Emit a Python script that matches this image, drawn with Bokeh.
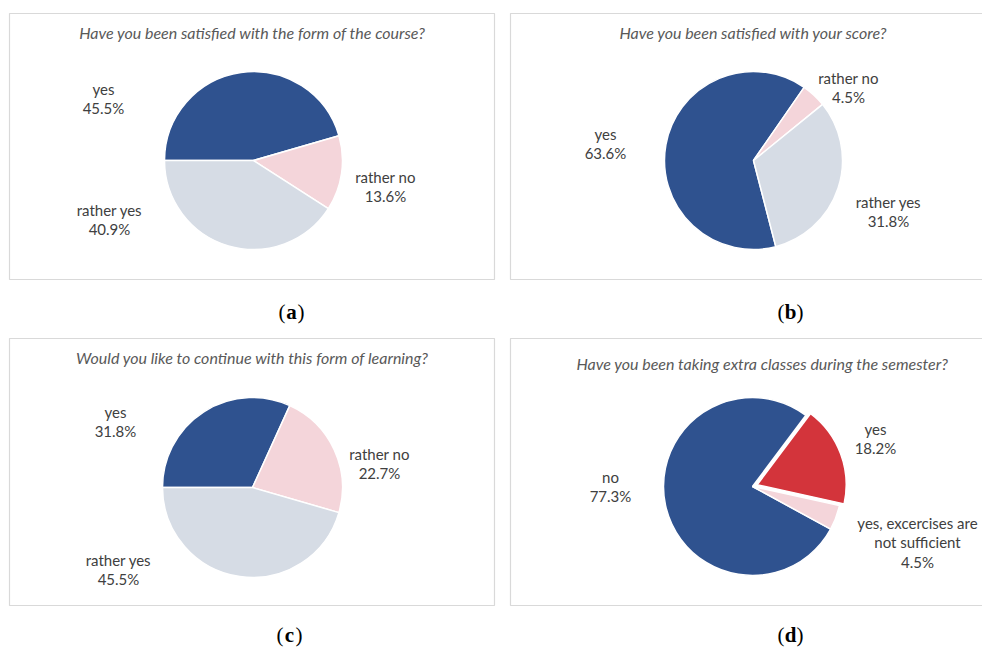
import numpy as np
from bokeh.plotting import figure
from bokeh.models import Range1d, ColumnDataSource
from bokeh.core.properties import value
from bokeh.embed import file_html
from bokeh.resources import INLINE

# ---------------- data ----------------
a_title = "Have you been satisfied with the form of the course?"
a_labels = ["yes", "rather no", "rather yes"]
a_values = [45.5, 13.6, 40.9]

b_title = "Have you been satisfied with your score?"
b_labels = ["yes", "rather no", "rather yes"]
b_values = [63.6, 4.5, 31.8]

c_title = "Would you like to continue with this form of learning?"
c_labels = ["yes", "rather no", "rather yes"]
c_values = [31.8, 22.7, 45.5]

d_title = "Have you been taking extra classes during the semester?"
d_labels = ["no", "yes", "yes, excercises are not sufficient"]
d_values = [77.3, 18.2, 4.5]

captions = ["a", "b", "c", "d"]

# ---------------- styling / layout ----------------
DARK = "#2F528F"
LIGHT = "#D6DCE5"
PINK = "#F4D5DA"
RED = "#D3343B"
TXT = "#404040"
TTL = "#595959"

W, H = 982, 648


def X(ix):
    return ix


def Y(iy):
    return H - iy


p = figure(width=W, height=H, x_range=Range1d(0, W), y_range=Range1d(0, H),
           output_backend="svg", toolbar_location=None, min_border=0,
           x_axis_location=None, y_axis_location=None)
p.grid.visible = False
p.outline_line_color = None
p.background_fill_color = "white"
p.border_fill_color = "white"

# panel boxes (image coords: left, top, right, bottom)
boxes = [(9, 13, 494, 279), (510, 13, 995, 279), (9, 338, 494, 605), (510, 338, 995, 605)]
for (l, t, r, b) in boxes:
    p.quad(left=X(l), right=X(r), top=Y(t), bottom=Y(b), fill_color=None,
           line_color="#D9D9D9", line_width=1.2)

panels = [
    dict(title=a_title, labels=a_labels, values=a_values, colors=[DARK, PINK, LIGHT],
         center=(253, 160), r=89, start=180.0, title_pos=(252, 32),
         label_pos=[(103, 98), (385, 186), (109, 219)], explode=[0, 0, 0]),
    dict(title=b_title, labels=b_labels, values=b_values, colors=[DARK, PINK, LIGHT],
         center=(753, 160), r=89, start=-75.5, title_pos=(753, 32),
         label_pos=[(605, 143), (848, 87), (888, 211)], explode=[0, 0, 0]),
    dict(title=c_title, labels=c_labels, values=c_values, colors=[DARK, PINK, LIGHT],
         center=(252, 487), r=90, start=180.0, title_pos=(252, 357),
         label_pos=[(115, 421), (379, 463), (118, 569)], explode=[0, 0, 0]),
    dict(title=d_title, labels=d_labels, values=d_values, colors=[DARK, RED, PINK],
         center=(752, 486), r=89, start=-28.6, title_pos=(762, 363),
         label_pos=[(610, 486), (875, 438), (917, 542)], explode=[0, 5, 0]),
]


def wrap(s):
    return s.replace(" not ", "\nnot ")


for pn in panels:
    vals = np.array(pn["values"], dtype=float)
    frac = vals / vals.sum()
    cum = np.concatenate([[0.0], np.cumsum(frac)[:-1]])
    starts = np.deg2rad(pn["start"] - cum * 360.0)
    ends = np.deg2rad(pn["start"] - (cum + frac) * 360.0)
    mids = (starts + ends) / 2
    ex = np.array(pn["explode"], dtype=float)
    cx = X(pn["center"][0]) + ex * np.cos(mids)
    cy = Y(pn["center"][1]) + ex * np.sin(mids)
    src = ColumnDataSource(dict(x=cx, y=cy, s=starts, e=ends, c=pn["colors"]))
    p.wedge(x="x", y="y", radius=pn["r"], start_angle="s", end_angle="e",
            direction="clock", fill_color="c", line_color="white", line_width=1.5,
            source=src)

    txt = [f"{wrap(lab)}\n{v:.1f}%" for lab, v in zip(pn["labels"], pn["values"])]
    lx = [X(q[0]) for q in pn["label_pos"]]
    ly = [Y(q[1]) for q in pn["label_pos"]]
    p.text(x=lx, y=ly, text=txt, text_align="center", text_baseline="middle",
           text_font=value("Lato"), text_font_size="15px", text_color=TXT,
           text_line_height=1.1)

    p.text(x=[X(pn["title_pos"][0])], y=[Y(pn["title_pos"][1])], text=[pn["title"]],
           text_align="center", text_baseline="middle", text_font=value("Lato"),
           text_font_style="italic", text_font_size="16px", text_color=TTL)

# captions (a) (b) (c) (d)
cap_pos = [(291, 311), (790, 311), (289, 634), (790, 634)]
for letter, (ix, iy) in zip(captions, cap_pos):
    x0, y0 = X(ix), Y(iy)
    p.text(x=[x0], y=[y0], text=[letter], text_align="center", text_baseline="middle",
           text_font=value("Liberation Serif"), text_font_style="bold",
           text_font_size="21px", text_color="black")
    p.text(x=[x0 - 6], y=[y0], text=["("], text_align="right", text_baseline="middle",
           text_font=value("Liberation Serif"), text_font_size="21px", text_color="black")
    p.text(x=[x0 + 6], y=[y0], text=[")"], text_align="left", text_baseline="middle",
           text_font=value("Liberation Serif"), text_font_size="21px", text_color="black")

open("out.html", "w").write(file_html(p, INLINE))
